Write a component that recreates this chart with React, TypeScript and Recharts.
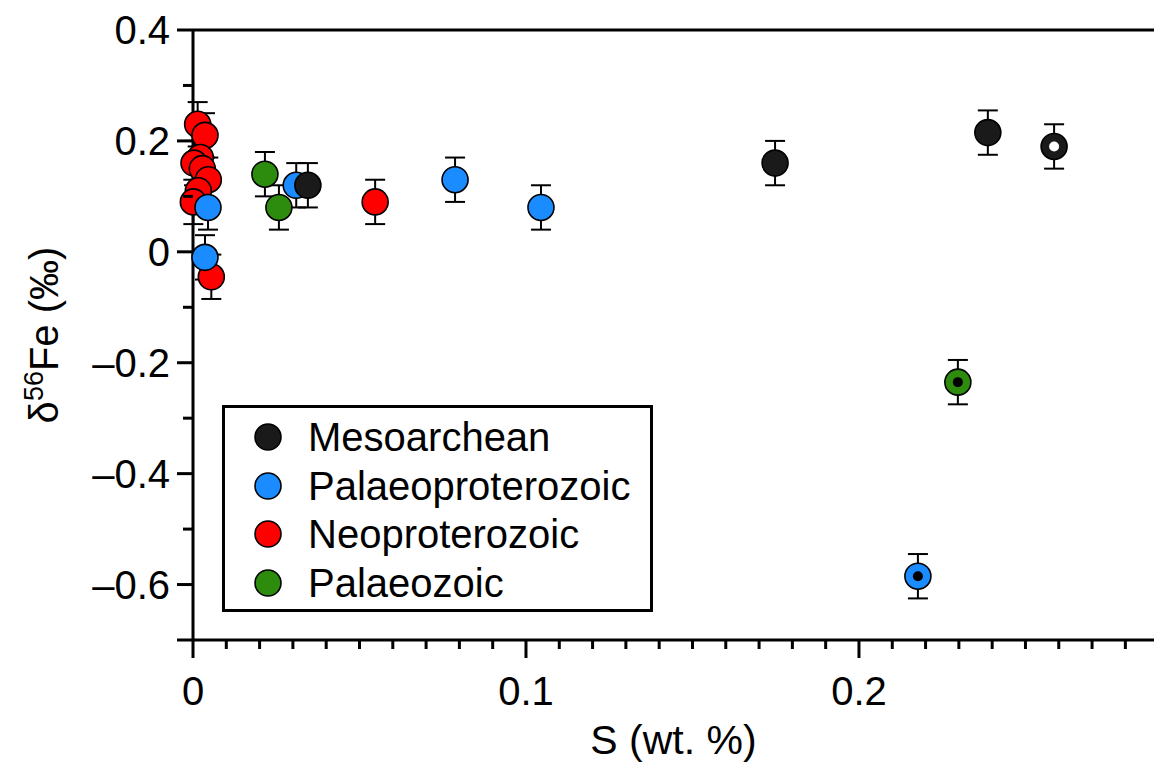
import { ScatterChart, Scatter, XAxis, YAxis, ErrorBar, ReferenceLine, Legend } from "recharts"

type Pt = { s: number; d: number; err: number; core?: "white" | "black" }

const mesoarchean: Pt[] = [
  { s: 0.0345, d: 0.12, err: 0.04 },
  { s: 0.1748, d: 0.16, err: 0.04 },
  { s: 0.2387, d: 0.215, err: 0.04 },
  { s: 0.2586, d: 0.19, err: 0.04, core: "white" },
]

const palaeoproterozoic: Pt[] = [
  { s: 0.031, d: 0.12, err: 0.04 },
  { s: 0.0045, d: 0.08, err: 0.04 },
  { s: 0.0036, d: -0.01, err: 0.04 },
  { s: 0.0787, d: 0.13, err: 0.04 },
  { s: 0.1045, d: 0.08, err: 0.04 },
  { s: 0.2177, d: -0.585, err: 0.04, core: "black" },
]

const neoproterozoic: Pt[] = [
  { s: 0.0014, d: 0.23, err: 0.04 },
  { s: 0.0036, d: 0.21, err: 0.04 },
  { s: 0.0022, d: 0.17, err: 0.04 },
  { s: 0.0003, d: 0.16, err: 0.04 },
  { s: 0.0028, d: 0.15, err: 0.04 },
  { s: 0.0046, d: 0.13, err: 0.04 },
  { s: 0.0016, d: 0.11, err: 0.04 },
  { s: 0.0001, d: 0.09, err: 0.04 },
  { s: 0.0055, d: -0.045, err: 0.04 },
  { s: 0.0547, d: 0.09, err: 0.04 },
]

const palaeozoic: Pt[] = [
  { s: 0.0216, d: 0.14, err: 0.04 },
  { s: 0.0258, d: 0.08, err: 0.04 },
  { s: 0.2297, d: -0.235, err: 0.04, core: "black" },
]

const legendNames = ["Mesoarchean", "Palaeoproterozoic", "Neoproterozoic", "Palaeozoic"]
const legendColors = ["#1a1a1a", "#1a8cff", "#ff0000", "#2d8c0e"]

const xTicks = [
  0, 0.01, 0.02, 0.03, 0.04, 0.05, 0.06, 0.07, 0.08, 0.09, 0.1, 0.11, 0.12, 0.13, 0.14,
  0.15, 0.16, 0.17, 0.18, 0.19, 0.2, 0.21, 0.22, 0.23, 0.24, 0.25, 0.26, 0.27, 0.28,
]
const yTicks = [-0.7, -0.6, -0.5, -0.4, -0.3, -0.2, -0.1, 0, 0.1, 0.2, 0.3, 0.4]

const FONT = "'Liberation Sans', Arial, Helvetica, sans-serif"

const isMajor = (v: number, step: number) => Math.abs(v / step - Math.round(v / step)) < 1e-6

function XTick(props: any) {
  const { x, y, payload } = props
  const v = payload.value
  const major = isMajor(v, 0.1)
  return (
    <g>
      <line x1={x} x2={x} y1={y} y2={y + (major ? 18 : 9)} stroke="#000" strokeWidth={3} />
      {major && (
        <text x={x} y={y + 65} textAnchor="middle" fontSize={40} fontFamily={FONT} fill="#000">
          {v === 0 ? "0" : v.toFixed(1)}
        </text>
      )}
    </g>
  )
}

function YTick(props: any) {
  const { x, y, payload } = props
  const v = payload.value
  const major = isMajor(v, 0.2)
  const label = v === 0 ? "0" : (v < 0 ? "\u2013" : "") + Math.abs(v).toFixed(1)
  return (
    <g>
      <line x1={x} x2={x - (major || v === -0.7 ? 16 : 10)} y1={y} y2={y} stroke="#000" strokeWidth={3} />
      {major && (
        <text x={x - 23} y={y + 14} textAnchor="end" fontSize={40} fontFamily={FONT} fill="#000">
          {label}
        </text>
      )}
    </g>
  )
}

function makeDot(color: string) {
  return (props: any) => {
    const { cx, cy, payload } = props
    return (
      <g>
        <circle cx={cx} cy={cy} r={13} fill={color} stroke="#000" strokeWidth={1.6} />
        {payload.core && <circle cx={cx} cy={cy} r={5} fill={payload.core === "white" ? "#fff" : "#000"} />}
      </g>
    )
  }
}

function LegendBox() {
  return (
    <div
      style={{
        position: "relative",
        width: 431,
        height: 207,
        border: "3px solid #000",
        boxSizing: "border-box",
        background: "#fff",
        fontFamily: FONT,
      }}
    >
      {legendNames.map((name, i) => (
        <div key={name} style={{ position: "absolute", left: 0, top: 29 + i * 48.5 - 24, height: 48, width: 420 }}>
          <svg width={40} height={48} style={{ position: "absolute", left: 23, top: 0 }}>
            <circle cx={20} cy={24} r={13} fill={legendColors[i]} stroke="#000" strokeWidth={1.6} />
          </svg>
          <span style={{ position: "absolute", left: 83, top: 1, fontSize: 40, lineHeight: "46px", color: "#000" }}>
            {name}
          </span>
        </div>
      ))}
    </div>
  )
}

function YLabel() {
  return (
    <text transform="translate(58,335) rotate(-90)" textAnchor="middle" fontSize={40} fontFamily={FONT} fill="#000">
      {"\u03b4"}
      <tspan dy={-15} fontSize={27}>56</tspan>
      <tspan dy={15}>Fe (‰)</tspan>
    </text>
  )
}

export default function App() {
  return (
    <div style={{ position: "absolute", left: 0, top: 0, width: 1154, height: 767, background: "#fff" }}>
      <ScatterChart width={1154} height={767} margin={{ top: 30, right: 0, left: 0, bottom: 0 }}>
        <XAxis
          type="number"
          dataKey="s"
          domain={[0, 0.2886]}
          ticks={xTicks}
          interval={0}
          tickSize={0}
          tickMargin={0}
          tickLine={false}
          tick={<XTick />}
          axisLine={{ stroke: "#000", strokeWidth: 3 }}
          height={127}
          label={{ value: "S (wt. %)", position: "insideBottom", offset: 13, fontSize: 41, fontFamily: FONT, fill: "#000" }}
        />
        <YAxis
          type="number"
          dataKey="d"
          domain={[-0.7, 0.4]}
          ticks={yTicks}
          interval={0}
          tickSize={0}
          tickMargin={0}
          tickLine={false}
          tick={<YTick />}
          axisLine={{ stroke: "#000", strokeWidth: 3 }}
          width={193}
          label={<YLabel />}
        />
        <ReferenceLine y={0.4} stroke="#000" strokeWidth={3} />
        <Scatter name="Neoproterozoic" data={neoproterozoic} shape={makeDot(legendColors[2])} isAnimationActive={false}>
          <ErrorBar dataKey="err" direction="y" width={10} stroke="#000" strokeWidth={2} />
        </Scatter>
        <Scatter name="Palaeozoic" data={palaeozoic} shape={makeDot(legendColors[3])} isAnimationActive={false}>
          <ErrorBar dataKey="err" direction="y" width={10} stroke="#000" strokeWidth={2} />
        </Scatter>
        <Scatter name="Palaeoproterozoic" data={palaeoproterozoic} shape={makeDot(legendColors[1])} isAnimationActive={false}>
          <ErrorBar dataKey="err" direction="y" width={10} stroke="#000" strokeWidth={2} />
        </Scatter>
        <Scatter name="Mesoarchean" data={mesoarchean} shape={makeDot(legendColors[0])} isAnimationActive={false}>
          <ErrorBar dataKey="err" direction="y" width={10} stroke="#000" strokeWidth={2} />
        </Scatter>
        <Legend
          layout="vertical"
          align="center"
          verticalAlign="middle"
          content={<LegendBox />}
          wrapperStyle={{ left: 222, top: 405, width: 431, height: 207 }}
        />
      </ScatterChart>
    </div>
  )
}
